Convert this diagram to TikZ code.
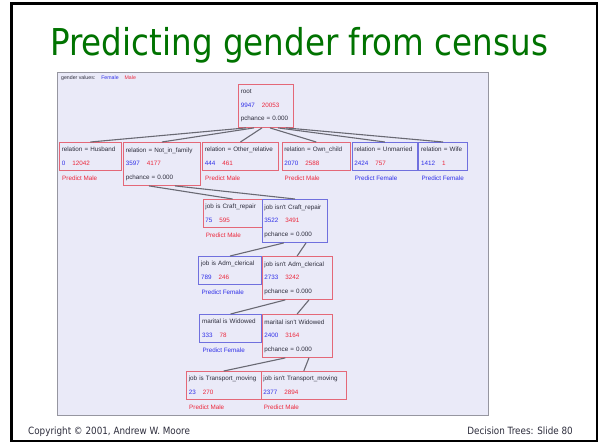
\documentclass[tikz,border=0pt]{standalone}
\usepackage{fontspec}
\setmainfont{DejaVu Sans}
\newfontfamily\slidefont[FakeStretch=0.88]{DejaVu Sans}
\newfontfamily\treefont{Liberation Sans}
\usetikzlibrary{calc}

\definecolor{titlegreen}{RGB}{0,115,0}
\definecolor{boxred}{RGB}{228,104,120}
\definecolor{boxblue}{RGB}{112,112,222}
\definecolor{txtred}{RGB}{236,40,60}
\definecolor{txtblue}{RGB}{48,48,232}
\definecolor{txtdark}{RGB}{45,45,60}
\definecolor{panelfill}{RGB}{234,234,248}
\definecolor{panelline}{RGB}{150,150,160}
\definecolor{edgegray}{RGB}{105,105,115}

% counts: female (blue) then male (red)
\newcommand\cnt[2]{\textcolor{txtblue}{#1}\hspace{7pt}\textcolor{txtred}{#2}}
% two-row leaf text and three-row split text
\newcommand\rowsB[3]{\mbox{#1}\\\mbox{\cnt{#2}{#3}}}
\newcommand\rowsC[3]{\rowsB{#1}{#2}{#3}\\\mbox{pchance = 0.000}}

\tikzset{
  tnode/.style={draw, line width=0.9pt, anchor=north west, inner xsep=2.3pt,
    inner ysep=0pt, align=left, text=txtdark,
    font=\treefont\fontsize{6.3}{13.5}\selectfont},
  mnode/.style={tnode, draw=boxred},
  fnode/.style={tnode, draw=boxblue},
  predm/.style={anchor=west, inner sep=0pt, text=txtred,
    font=\treefont\fontsize{6.3}{7}\selectfont},
  predf/.style={predm, text=txtblue},
  edge/.style={draw=edgegray, line width=1.1pt},
}

\begin{document}
\begin{tikzpicture}[x=1pt,y=-1pt]
\useasboundingbox (0,0) rectangle (603,444);
\fill[white] (0,0) rectangle (603,444);
% slide frame
\draw[black, line width=2.6pt] (11.3,3.7) rectangle (597,441);

% title and footer
\node[anchor=base west, inner sep=0pt, text=titlegreen,
  font=\slidefont\fontsize{37}{40}\selectfont] (title) at (50,55.5) {Predicting gender from census};
\node[anchor=base west, inner sep=0pt, text=txtdark,
  font=\slidefont\fontsize{10}{12}\selectfont] (copy) at (28,434) {Copyright © 2001, Andrew W. Moore};
\node[anchor=base east, inner sep=0pt, text=txtdark,
  font=\slidefont\fontsize{10}{12}\selectfont] (slideno) at (573,434) {Decision Trees: Slide 80};

% tree viewer panel
\filldraw[fill=panelfill, draw=panelline, line width=0.8pt] (57,72) rectangle (488,415);
\node[anchor=base west, inner sep=0pt, text=txtdark,
  font=\treefont\fontsize{5.2}{6}\selectfont] (legend) at (61,80)
  {gender values:\hspace{6pt}\textcolor{txtblue}{Female}\hspace{6pt}\textcolor{txtred}{Male}};

% root
\node[mnode, text width=50.4pt, minimum height=43pt] (root) at (238,84)
  {\mbox{root}\\\mbox{\cnt{9947}{20053}}\\\mbox{pchance = 0.000}};

% split on relation
\node[mnode, text width=57.4pt, minimum height=28pt] (h1) at (59,142)
  {\rowsB{relation = Husband}{0}{12042}};
\node[mnode, text width=72.4pt, minimum height=43pt] (h2) at (123,142)
  {\rowsC{relation = Not\_in\_family}{3597}{4177}};
\node[mnode, text width=71.4pt, minimum height=28pt] (h3) at (202,142)
  {\rowsB{relation = Other\_relative}{444}{461}};
\node[mnode, text width=63.9pt, minimum height=28pt] (h4) at (281.5,142)
  {\rowsB{relation = Own\_child}{2070}{2588}};
\node[fnode, text width=60.9pt, minimum height=28pt] (h5) at (351.7,142)
  {\rowsB{relation = Unmarried}{2424}{757}};
\node[fnode, text width=43.9pt, minimum height=28pt] (h6) at (418.3,142)
  {\rowsB{relation = Wife}{1412}{1}};

\node[predm] (p1) at ([xshift=3pt,yshift=-7pt]h1.south west) {Predict Male};
\node[predm] (p3) at ([xshift=3pt,yshift=-7pt]h3.south west) {Predict Male};
\node[predm] (p4) at ([xshift=3pt,yshift=-7pt]h4.south west) {Predict Male};
\node[predf] (p5) at ([xshift=3pt,yshift=-7pt]h5.south west) {Predict Female};
\node[predf] (p6) at ([xshift=3pt,yshift=-7pt]h6.south west) {Predict Female};

% split on job = Craft_repair
\node[mnode, text width=54.4pt, minimum height=28pt] (c1) at (202.7,199)
  {\rowsB{job is Craft\_repair}{75}{595}};
\node[fnode, text width=61pt, minimum height=43pt] (c2) at (261.7,199)
  {\rowsC{job isn't Craft\_repair}{3522}{3491}};
\node[predm] (pc1) at ([xshift=3pt,yshift=-7pt]c1.south west) {Predict Male};

% split on job = Adm_clerical
\node[fnode, text width=58.1pt, minimum height=28pt] (a1) at (198.3,256)
  {\rowsB{job is Adm\_clerical}{789}{246}};
\node[mnode, text width=65.4pt, minimum height=43pt] (a2) at (261.7,256)
  {\rowsC{job isn't Adm\_clerical}{2733}{3242}};
\node[predf] (pa1) at ([xshift=3pt,yshift=-7pt]a1.south west) {Predict Female};

% split on marital = Widowed
\node[fnode, text width=57.1pt, minimum height=28pt] (w1) at (199.3,314)
  {\rowsB{marital is Widowed}{333}{78}};
\node[mnode, text width=65.4pt, minimum height=43pt] (w2) at (261.7,314)
  {\rowsC{marital isn't Widowed}{2400}{3164}};
\node[predf] (pw1) at ([xshift=3pt,yshift=-7pt]w1.south west) {Predict Female};

% split on job = Transport_moving
\node[mnode, text width=70.1pt, minimum height=28pt] (t1) at (186,371)
  {\rowsB{job is Transport\_moving}{23}{270}};
\node[mnode, text width=80.7pt, minimum height=28pt] (t2) at (260.7,371)
  {\rowsB{job isn't Transport\_moving}{2377}{2894}};
\node[predm] (pt1) at ([xshift=3pt,yshift=-7pt]t1.south west) {Predict Male};
\node[predm] (pt2) at ([xshift=3pt,yshift=-7pt]t2.south west) {Predict Male};

% connectors
\foreach \k [count=\i] in {h1,h2,h3,h4,h5,h6}
  \draw[edge] ($(root.south west)!{\i/7}!(root.south east)$) -- (\k.north);
\draw[edge] ($(h2.south west)!{1/3}!(h2.south east)$) -- (c1.north);
\draw[edge] ($(h2.south west)!{2/3}!(h2.south east)$) -- (c2.north);
\draw[edge] ($(c2.south west)!{1/3}!(c2.south east)$) -- (a1.north);
\draw[edge] ($(c2.south west)!{2/3}!(c2.south east)$) -- (a2.north);
\draw[edge] ($(a2.south west)!{1/3}!(a2.south east)$) -- (w1.north);
\draw[edge] ($(a2.south west)!{2/3}!(a2.south east)$) -- (w2.north);
\draw[edge] ($(w2.south west)!{1/3}!(w2.south east)$) -- (t1.north);
\draw[edge] ($(w2.south west)!{2/3}!(w2.south east)$) -- (t2.north);
\end{tikzpicture}
\end{document}
